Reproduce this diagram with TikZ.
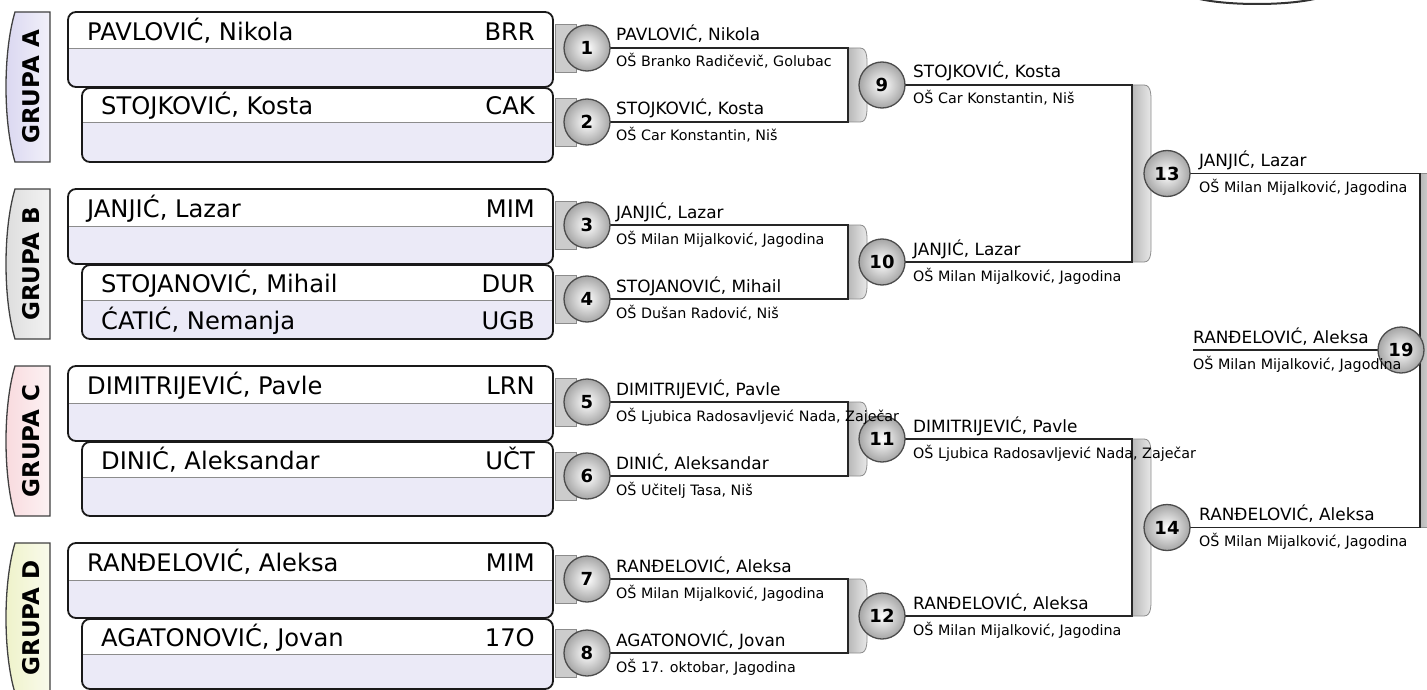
\documentclass[tikz,border=0pt]{standalone}
\usepackage{fontspec}
\setmainfont{DejaVu Sans}
\definecolor{boxlav}{HTML}{EBEAF7}
\definecolor{tabA}{HTML}{D9D6F0}
\definecolor{tabB}{HTML}{DCDCDC}
\definecolor{tabC}{HTML}{F8D9DD}
\definecolor{tabD}{HTML}{EEF2C8}
\newcommand\pbox[5]{%
  \begin{scope}
    \clip[rounded corners=8pt] (#1,#2) rectangle (#3,#4);
    \fill[boxlav] (#1,#2) rectangle (#3,#4);
    \fill[white] (#1,#2) rectangle (#3,#5);
    \draw[black!45, line width=1pt] (#1,#5) -- (#3,#5);
  \end{scope}
  \draw[line width=1.8pt, black!90, rounded corners=8pt] (#1,#2) rectangle (#3,#4);}
\newcommand\gtab[5]{%
  \draw[black!75, line width=1.3pt, left color=#3, right color=#3!35!white]
    (50,#1) -- (15,#1) .. controls (3,{#1+40}) and (3,{#2-40}) .. (15,#2) -- (50,#2) -- cycle;
  \node[grp] (#5) at (31,{(#1+#2)/2}) {#4};}
\newcommand\ctab[1]{%
  \draw[tabfill] (555,{#1-24}) rectangle (576,{#1+24});}
\newcommand\brk[3]{%
  \draw[draw=black!45, line width=0.8pt, left color=black!28, right color=black!8]
    (#1,#2) -- ({#1+12},#2) .. controls ({#1+20},#2) and ({#1+19},{#2+12}) .. ({#1+19},{#2+22})
    -- ({#1+19},{#3-22}) .. controls ({#1+19},{#3-12}) and ({#1+20},#3) .. ({#1+12},#3) -- (#1,#3) -- cycle;}
\begin{document}
\begin{tikzpicture}[x=1pt,y=-1pt,
  nm/.style={anchor=base west, inner sep=0, font=\fontsize{16.9}{18}\selectfont},
  sch/.style={anchor=base west, inner sep=0, font=\fontsize{14.3}{15}\selectfont},
  bxname/.style={anchor=base west, inner sep=0, font=\fontsize{24.2}{26}\selectfont},
  bxcode/.style={anchor=base east, inner sep=0, font=\fontsize{24.2}{26}\selectfont},
  grp/.style={rotate=90, inner sep=0, font=\fontsize{23}{25}\bfseries\selectfont},
  match/.style={circle, draw=black!70, line width=1.3pt, minimum size=46pt, inner sep=0,
    shading=radial, inner color=white, outer color=black!35, font=\fontsize{18}{20}\bfseries\selectfont},
  wire/.style={line width=1.8pt, black!85},
  tabfill/.style={draw=black!45, line width=0.8pt, fill=black!20}]
\useasboundingbox (0,0) rectangle (1427,690);
\clip (0,0) rectangle (1427,690);
% top-right ellipse (partially visible)
\draw[line width=2pt, black!80, fill=white] (1257,-10) ellipse [x radius=75, y radius=14];
% group tabs
\gtab{12}{162}{tabA}{GRUPA A}{gA}
\gtab{189}{339}{tabB}{GRUPA B}{gB}
\gtab{366}{516}{tabC}{GRUPA C}{gC}
\gtab{543}{693}{tabD}{GRUPA D}{gD}
% connector tabs
\ctab{48}\ctab{122}\ctab{225}\ctab{299}\ctab{402}\ctab{476}\ctab{579}\ctab{653}
% player boxes
\pbox{68}{12}{553}{87}{49}
\pbox{82}{88}{553}{162}{123}
\pbox{68}{189}{553}{264}{226}
\pbox{82}{265}{553}{339}{300}
\pbox{68}{366}{553}{441}{403}
\pbox{82}{442}{553}{516}{477}
\pbox{68}{543}{553}{618}{580}
\pbox{82}{619}{553}{689}{654}
\node[bxname] (p1) at (87,40.5) {PAVLOVIĆ, Nikola};   \node[bxcode] (k1) at (535,40.5) {BRR};
\node[bxname] (p2) at (101,115) {STOJKOVIĆ, Kosta};   \node[bxcode] (k2) at (535,115) {CAK};
\node[bxname] (p3) at (87,217.5) {JANJIĆ, Lazar};     \node[bxcode] (k3) at (535,217.5) {MIM};
\node[bxname] (p4) at (101,292) {STOJANOVIĆ, Mihail}; \node[bxcode] (k4) at (535,292) {DUR};
\node[bxname] (p4b) at (101,329) {ĆATIĆ, Nemanja};    \node[bxcode] (k4b) at (535,329) {UGB};
\node[bxname] (p5) at (87,394.5) {DIMITRIJEVIĆ, Pavle}; \node[bxcode] (k5) at (535,394.5) {LRN};
\node[bxname] (p6) at (101,469) {DINIĆ, Aleksandar};  \node[bxcode] (k6) at (535,469) {UČT};
\node[bxname] (p7) at (87,571.5) {RANĐELOVIĆ, Aleksa}; \node[bxcode] (k7) at (535,571.5) {MIM};
\node[bxname] (p8) at (101,646) {AGATONOVIĆ, Jovan};  \node[bxcode] (k8) at (535,646) {17O};
% brackets
\brk{848}{48}{122}
\brk{848}{225}{299}
\brk{848}{402}{476}
\brk{848}{579}{653}
\brk{1132}{85}{262}
\brk{1132}{439}{616}
\brk{1420}{173.5}{527.5}
% junction coordinates
\coordinate (j9a) at (848,48);   \coordinate (j9b) at (848,122);
\coordinate (j10a) at (848,225); \coordinate (j10b) at (848,299);
\coordinate (j11a) at (848,402); \coordinate (j11b) at (848,476);
\coordinate (j12a) at (848,579); \coordinate (j12b) at (848,653);
\coordinate (j13a) at (1132,85); \coordinate (j13b) at (1132,262);
\coordinate (j14a) at (1132,439);\coordinate (j14b) at (1132,616);
\coordinate (j19a) at (1420,173.5); \coordinate (j19b) at (1420,527.5);
\coordinate (f19) at (1193,350);
% match circle positions
\path (587,48) coordinate (c1) (587,122) coordinate (c2) (587,225) coordinate (c3) (587,299) coordinate (c4)
      (587,402) coordinate (c5) (587,476) coordinate (c6) (587,579) coordinate (c7) (587,653) coordinate (c8)
      (882,85) coordinate (c9) (882,262) coordinate (c10) (882,439) coordinate (c11) (882,616) coordinate (c12)
      (1167,173.5) coordinate (c13) (1167,527.5) coordinate (c14) (1401,350) coordinate (c19);
% wires
\draw[wire] (c1) -- (j9a) -- (j9b) -- (c2);
\draw[wire] (c3) -- (j10a) -- (j10b) -- (c4);
\draw[wire] (c5) -- (j11a) -- (j11b) -- (c6);
\draw[wire] (c7) -- (j12a) -- (j12b) -- (c8);
\draw[wire] (c9) -- (j13a) -- (j13b) -- (c10);
\draw[wire] (c11) -- (j14a) -- (j14b) -- (c12);
\draw[wire] (c13) -- (j19a) -- (j19b) -- (c14);
\draw[wire] (f19) -- (c19);
% circles
\foreach \n in {1,...,14,19} {\node[match] (m\n) at (c\n) {\n};}
% round 1 labels
\node[nm] (n1) at (616,41) {PAVLOVIĆ, Nikola};      \node[sch] (s1) at (616,67) {OŠ Branko Radičevič, Golubac};
\node[nm] (n2) at (616,115) {STOJKOVIĆ, Kosta};     \node[sch] (s2) at (616,141) {OŠ Car Konstantin, Niš};
\node[nm] (n3) at (616,218) {JANJIĆ, Lazar};        \node[sch] (s3) at (616,244) {OŠ Milan Mijalković, Jagodina};
\node[nm] (n4) at (616,292) {STOJANOVIĆ, Mihail};   \node[sch] (s4) at (616,318) {OŠ Dušan Radović, Niš};
\node[nm] (n5) at (616,395) {DIMITRIJEVIĆ, Pavle};  \node[sch] (s5) at (616,421) {OŠ Ljubica Radosavljević Nada, Zaječar};
\node[nm] (n6) at (616,469) {DINIĆ, Aleksandar};    \node[sch] (s6) at (616,495) {OŠ Učitelj Tasa, Niš};
\node[nm] (n7) at (616,572) {RANĐELOVIĆ, Aleksa};   \node[sch] (s7) at (616,598) {OŠ Milan Mijalković, Jagodina};
\node[nm] (n8) at (616,646) {AGATONOVIĆ, Jovan};    \node[sch] (s8) at (616,672) {OŠ 17. oktobar, Jagodina};
% round 2 labels
\node[nm] (n9) at (913,78) {STOJKOVIĆ, Kosta};      \node[sch] (s9) at (913,104) {OŠ Car Konstantin, Niš};
\node[nm] (n10) at (913,255) {JANJIĆ, Lazar};       \node[sch] (s10) at (913,281) {OŠ Milan Mijalković, Jagodina};
\node[nm] (n11) at (913,432) {DIMITRIJEVIĆ, Pavle}; \node[sch] (s11) at (913,458) {OŠ Ljubica Radosavljević Nada, Zaječar};
\node[nm] (n12) at (913,609) {RANĐELOVIĆ, Aleksa};  \node[sch] (s12) at (913,635) {OŠ Milan Mijalković, Jagodina};
% round 3 labels
\node[nm] (n13) at (1199,166.5) {JANJIĆ, Lazar};     \node[sch] (s13) at (1199,192.5) {OŠ Milan Mijalković, Jagodina};
\node[nm] (n14) at (1199,520.5) {RANĐELOVIĆ, Aleksa};\node[sch] (s14) at (1199,546.5) {OŠ Milan Mijalković, Jagodina};
% final
\node[nm] (n19) at (1193,343) {RANĐELOVIĆ, Aleksa};  \node[sch] (s19) at (1193,369) {OŠ Milan Mijalković, Jagodina};
\end{tikzpicture}
\end{document}
